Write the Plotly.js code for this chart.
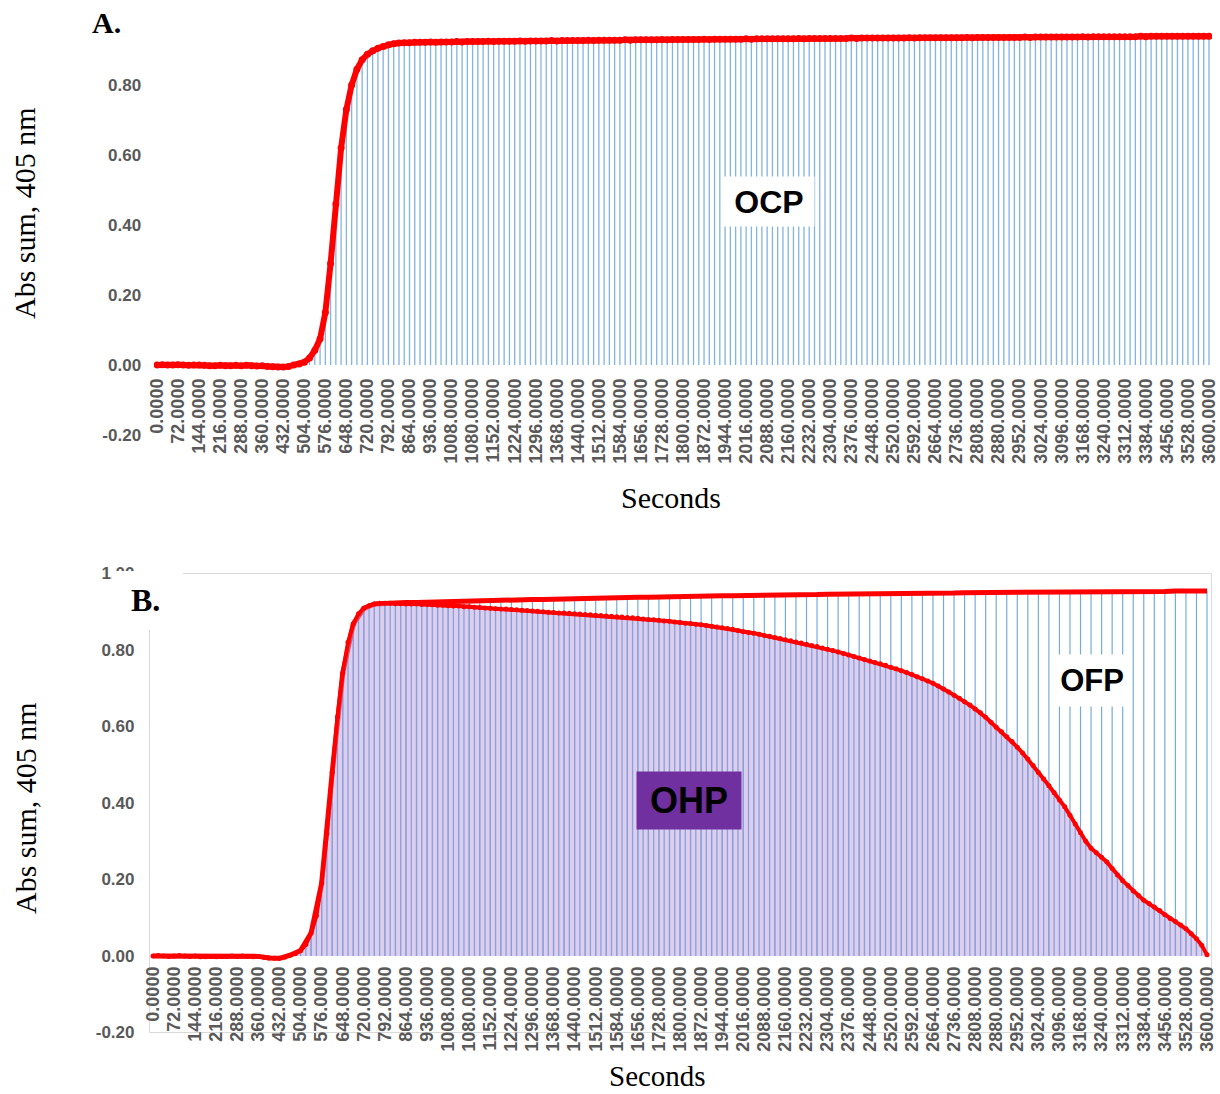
<!DOCTYPE html>
<html>
<head>
<meta charset="utf-8">
<script src="https://cdn.plot.ly/plotly-3.0.1.min.js"></script>
<style>
  html, body { margin: 0; padding: 0; background: #ffffff; }
  #chart { width: 1220px; height: 1094px; }
</style>
</head>
<body>
<div id="chart"></div>
<script>
// Sampling times (s) of the kinetic reads
const seconds = [
  0, 18, 36, 54, 72, 90, 108, 126, 144, 162,
  180, 198, 216, 234, 252, 270, 288, 306, 324, 342,
  360, 378, 396, 414, 432, 450, 468, 486, 504, 522,
  540, 558, 576, 594, 612, 630, 648, 666, 684, 702,
  720, 738, 756, 774, 792, 810, 828, 846, 864, 882,
  900, 918, 936, 954, 972, 990, 1008, 1026, 1044, 1062,
  1080, 1098, 1116, 1134, 1152, 1170, 1188, 1206, 1224, 1242,
  1260, 1278, 1296, 1314, 1332, 1350, 1368, 1386, 1404, 1422,
  1440, 1458, 1476, 1494, 1512, 1530, 1548, 1566, 1584, 1602,
  1620, 1638, 1656, 1674, 1692, 1710, 1728, 1746, 1764, 1782,
  1800, 1818, 1836, 1854, 1872, 1890, 1908, 1926, 1944, 1962,
  1980, 1998, 2016, 2034, 2052, 2070, 2088, 2106, 2124, 2142,
  2160, 2178, 2196, 2214, 2232, 2250, 2268, 2286, 2304, 2322,
  2340, 2358, 2376, 2394, 2412, 2430, 2448, 2466, 2484, 2502,
  2520, 2538, 2556, 2574, 2592, 2610, 2628, 2646, 2664, 2682,
  2700, 2718, 2736, 2754, 2772, 2790, 2808, 2826, 2844, 2862,
  2880, 2898, 2916, 2934, 2952, 2970, 2988, 3006, 3024, 3042,
  3060, 3078, 3096, 3114, 3132, 3150, 3168, 3186, 3204, 3222,
  3240, 3258, 3276, 3294, 3312, 3330, 3348, 3366, 3384, 3402,
  3420, 3438, 3456, 3474, 3492, 3510, 3528, 3546, 3564, 3582,
  3600
];

// Panel A: OCP, absorbance sum at 405 nm
const ocpAbs = [
  0.000, 0.001, 0.000, 0.000, 0.001, 0.000, -0.001, 0.000, 0.000, -0.001,
  -0.002, -0.002, -0.001, -0.002, -0.002, -0.001, -0.002, -0.001, -0.002, -0.003,
  -0.002, -0.004, -0.005, -0.006, -0.006, -0.004, 0.000, 0.003, 0.008, 0.020,
  0.042, 0.075, 0.150, 0.290, 0.460, 0.620, 0.730, 0.800, 0.845, 0.872,
  0.888, 0.898, 0.905, 0.910, 0.915, 0.918, 0.920, 0.921, 0.921, 0.922,
  0.922, 0.922, 0.923, 0.922, 0.923, 0.923, 0.923, 0.924, 0.923, 0.924,
  0.924, 0.924, 0.924, 0.925, 0.924, 0.925, 0.925, 0.925, 0.925, 0.926,
  0.925, 0.926, 0.926, 0.926, 0.926, 0.927, 0.926, 0.927, 0.927, 0.927,
  0.927, 0.927, 0.928, 0.927, 0.928, 0.928, 0.928, 0.928, 0.928, 0.929,
  0.928, 0.929, 0.929, 0.929, 0.929, 0.929, 0.930, 0.929, 0.930, 0.930,
  0.930, 0.930, 0.930, 0.930, 0.931, 0.930, 0.931, 0.931, 0.931, 0.931,
  0.931, 0.931, 0.932, 0.931, 0.932, 0.932, 0.932, 0.932, 0.932, 0.932,
  0.932, 0.932, 0.933, 0.932, 0.933, 0.933, 0.933, 0.933, 0.933, 0.933,
  0.933, 0.933, 0.934, 0.933, 0.934, 0.934, 0.934, 0.934, 0.934, 0.934,
  0.934, 0.934, 0.934, 0.935, 0.934, 0.935, 0.935, 0.935, 0.935, 0.935,
  0.935, 0.935, 0.935, 0.935, 0.936, 0.935, 0.936, 0.936, 0.936, 0.936,
  0.936, 0.936, 0.936, 0.936, 0.936, 0.937, 0.936, 0.937, 0.937, 0.937,
  0.937, 0.937, 0.937, 0.937, 0.937, 0.937, 0.938, 0.937, 0.938, 0.938,
  0.938, 0.938, 0.938, 0.938, 0.938, 0.938, 0.938, 0.939, 0.938, 0.939,
  0.939, 0.939, 0.939, 0.939, 0.939, 0.939, 0.939, 0.939, 0.939, 0.939,
  0.939
];

// Panel B: OHP, absorbance sum at 405 nm
const ohpAbs = [
  0.000, 0.001, 0.000, -0.001, 0.000, 0.001, 0.000, -0.001, 0.000, -0.002,
  -0.002, -0.001, -0.002, -0.001, -0.001, 0.000, -0.001, 0.000, -0.001, -0.002,
  -0.001, -0.003, -0.005, -0.006, -0.006, -0.003, 0.002, 0.006, 0.014, 0.030,
  0.060, 0.105, 0.190, 0.320, 0.480, 0.625, 0.740, 0.820, 0.868, 0.895,
  0.909, 0.916, 0.920, 0.922, 0.922, 0.922, 0.921, 0.921, 0.920, 0.920,
  0.920, 0.919, 0.919, 0.918, 0.917, 0.917, 0.916, 0.915, 0.915, 0.913,
  0.913, 0.912, 0.911, 0.910, 0.909, 0.908, 0.907, 0.907, 0.906, 0.905,
  0.904, 0.903, 0.902, 0.901, 0.900, 0.899, 0.898, 0.897, 0.897, 0.896,
  0.895, 0.894, 0.893, 0.892, 0.891, 0.890, 0.889, 0.888, 0.887, 0.886,
  0.885, 0.884, 0.883, 0.881, 0.880, 0.879, 0.878, 0.876, 0.875, 0.873,
  0.872, 0.870, 0.869, 0.867, 0.866, 0.864, 0.862, 0.860, 0.858, 0.856,
  0.854, 0.851, 0.848, 0.846, 0.844, 0.841, 0.838, 0.836, 0.833, 0.830,
  0.827, 0.824, 0.821, 0.818, 0.815, 0.812, 0.809, 0.805, 0.802, 0.799,
  0.795, 0.791, 0.787, 0.783, 0.779, 0.775, 0.771, 0.767, 0.764, 0.760,
  0.755, 0.751, 0.746, 0.741, 0.736, 0.730, 0.725, 0.719, 0.713, 0.706,
  0.698, 0.690, 0.682, 0.674, 0.665, 0.656, 0.646, 0.636, 0.624, 0.611,
  0.598, 0.586, 0.573, 0.561, 0.546, 0.531, 0.515, 0.498, 0.480, 0.463,
  0.445, 0.427, 0.408, 0.390, 0.368, 0.345, 0.322, 0.300, 0.282, 0.270,
  0.258, 0.246, 0.229, 0.212, 0.197, 0.184, 0.170, 0.158, 0.146, 0.137,
  0.128, 0.119, 0.108, 0.098, 0.090, 0.081, 0.071, 0.058, 0.045, 0.028,
  0.003
];

// Panel B: OFP, read every 36 s
const ofpSeconds = [
  0, 36, 72, 108, 144, 180, 216, 252, 288, 324,
  360, 396, 432, 468, 504, 540, 576, 612, 648, 684,
  720, 756, 792, 828, 864, 900, 936, 972, 1008, 1044,
  1080, 1116, 1152, 1188, 1224, 1260, 1296, 1332, 1368, 1404,
  1440, 1476, 1512, 1548, 1584, 1620, 1656, 1692, 1728, 1764,
  1800, 1836, 1872, 1908, 1944, 1980, 2016, 2052, 2088, 2124,
  2160, 2196, 2232, 2268, 2304, 2340, 2376, 2412, 2448, 2484,
  2520, 2556, 2592, 2628, 2664, 2700, 2736, 2772, 2808, 2844,
  2880, 2916, 2952, 2988, 3024, 3060, 3096, 3132, 3168, 3204,
  3240, 3276, 3312, 3348, 3384, 3420, 3456, 3492, 3528, 3564,
  3600
];
const ofpAbs = [
  0.000, 0.000, 0.000, 0.000, 0.000, -0.002, -0.002, -0.001, -0.001, -0.001,
  -0.001, -0.005, -0.006, 0.002, 0.014, 0.060, 0.190, 0.480, 0.740, 0.868,
  0.909, 0.920, 0.922, 0.923, 0.924, 0.924, 0.925, 0.926, 0.926, 0.927,
  0.928, 0.928, 0.929, 0.930, 0.930, 0.931, 0.932, 0.932, 0.933, 0.933,
  0.934, 0.935, 0.935, 0.936, 0.936, 0.937, 0.938, 0.938, 0.939, 0.939,
  0.940, 0.940, 0.941, 0.941, 0.942, 0.942, 0.942, 0.943, 0.943, 0.944,
  0.944, 0.944, 0.945, 0.945, 0.946, 0.946, 0.946, 0.947, 0.947, 0.947,
  0.948, 0.948, 0.948, 0.949, 0.949, 0.949, 0.949, 0.950, 0.950, 0.950,
  0.950, 0.951, 0.951, 0.951, 0.951, 0.952, 0.952, 0.952, 0.952, 0.952,
  0.952, 0.953, 0.953, 0.953, 0.953, 0.953, 0.953, 0.954, 0.954, 0.954,
  0.954
];

// Category tick labels along the time axis
const tickSeconds = [
  0, 72, 144, 216, 288, 360, 432, 504, 576, 648,
  720, 792, 864, 936, 1008, 1080, 1152, 1224, 1296, 1368,
  1440, 1512, 1584, 1656, 1728, 1800, 1872, 1944, 2016, 2088,
  2160, 2232, 2304, 2376, 2448, 2520, 2592, 2664, 2736, 2808,
  2880, 2952, 3024, 3096, 3168, 3240, 3312, 3384, 3456, 3528,
  3600
];
const tickLabels = [
  "0.0000", "72.0000", "144.0000", "216.0000", "288.0000", "360.0000", "432.0000", "504.0000", "576.0000", "648.0000",
  "720.0000", "792.0000", "864.0000", "936.0000", "1008.0000", "1080.0000", "1152.0000", "1224.0000", "1296.0000", "1368.0000",
  "1440.0000", "1512.0000", "1584.0000", "1656.0000", "1728.0000", "1800.0000", "1872.0000", "1944.0000", "2016.0000", "2088.0000",
  "2160.0000", "2232.0000", "2304.0000", "2376.0000", "2448.0000", "2520.0000", "2592.0000", "2664.0000", "2736.0000", "2808.0000",
  "2880.0000", "2952.0000", "3024.0000", "3096.0000", "3168.0000", "3240.0000", "3312.0000", "3384.0000", "3456.0000", "3528.0000",
  "3600.0000"
];
const absTicksA = [-0.2, 0, 0.2, 0.4, 0.6, 0.8];
const absLabelsA = ["-0.20", "0.00", "0.20", "0.40", "0.60", "0.80"];
const absTicksB = [-0.2, 0, 0.2, 0.4, 0.6, 0.8, 1.0];
const absLabelsB = ["-0.20", "0.00", "0.20", "0.40", "0.60", "0.80", "1.00"];

// ---- page geometry helpers (pixels -> paper fractions) ----
const W = 1220, H = 1094;
const px = v => v / W;
const py = v => 1 - v / H;

const RED = '#FF0000';
const BLUE = '#5B9BD5';
const sansFamily = 'Liberation Sans, Arial, sans-serif';
const serif = 'Liberation Serif, Times New Roman, serif';
const xTickFont = { family: sansFamily, size: 18, color: '#595959', weight: 'bold' };
const yTickFont = { family: sansFamily, size: 17, color: '#595959', weight: 'bold' };

const traces = [
  // Panel A
  { type: 'bar', x: seconds, y: ocpAbs, xaxis: 'x', yaxis: 'y', width: 4.5,
    marker: { color: BLUE, opacity: 0.75, line: { width: 0 } } },
  { type: 'scatter', mode: 'lines+markers', x: seconds, y: ocpAbs, xaxis: 'x', yaxis: 'y',
    line: { color: RED, width: 6 }, marker: { color: RED, size: 7 } },

  // Panel B
  { type: 'bar', x: ofpSeconds, y: ofpAbs, xaxis: 'x2', yaxis: 'y2', width: 4,
    marker: { color: BLUE, opacity: 0.85, line: { width: 0 } } },
  { type: 'bar', x: seconds, y: ohpAbs, xaxis: 'x2', yaxis: 'y2', width: 4.5,
    marker: { color: BLUE, opacity: 0.95, line: { width: 0 } } },
  { type: 'scatter', mode: 'lines', x: ofpSeconds, y: ofpAbs, xaxis: 'x2', yaxis: 'y2',
    line: { color: RED, width: 5 } },
  { type: 'scatter', mode: 'lines+markers', x: seconds, y: ohpAbs, xaxis: 'x2', yaxis: 'y2',
    fill: 'tozeroy', fillcolor: 'rgba(186,160,222,0.5)',
    line: { color: RED, width: 4 }, marker: { color: RED, size: 5 } }
];

const xCommon = {
  tickmode: 'array', tickvals: tickSeconds, ticktext: tickLabels, tickangle: -90,
  tickfont: xTickFont, showgrid: false, zeroline: false, showline: false, ticks: '',
  anchor: 'free', fixedrange: true
};
const yCommon = {
  tickmode: 'array', tickfont: yTickFont, showgrid: false, zeroline: false, showline: false,
  ticks: '', range: [-0.2, 1.0], fixedrange: true
};

// centred paper-positioned text
function label(text, x, y, font, extra) {
  return Object.assign({
    text: text, xref: 'paper', yref: 'paper', x: px(x), y: py(y),
    xanchor: 'center', yanchor: 'middle', showarrow: false, font: font
  }, extra || {});
}
const serifFont = size => ({ family: serif, size: size, color: '#000000' });
const boxFont = size => ({ family: sansFamily, size: size, color: '#000000' });

const layout = {
  width: W, height: H,
  margin: { l: 0, r: 0, t: 0, b: 0 },
  paper_bgcolor: '#ffffff', plot_bgcolor: 'rgba(0,0,0,0)',
  showlegend: false, barmode: 'overlay', hovermode: false,
  xaxis: Object.assign({}, xCommon, {
    domain: [px(154.1), px(1211.9)], range: [-10, 3610], position: py(365), ticklabelstandoff: 9
  }),
  yaxis: Object.assign({}, yCommon, {
    domain: [py(435), py(15)], anchor: 'x', tickvals: absTicksA, ticktext: absLabelsA, ticklabelstandoff: 12
  }),
  xaxis2: Object.assign({}, xCommon, {
    domain: [px(149.5), px(1211.4)], range: [-12, 3615], position: py(956), ticklabelstandoff: 6
  }),
  yaxis2: Object.assign({}, yCommon, {
    domain: [py(1032.5), py(573.5)], anchor: 'x2', tickvals: absTicksB, ticktext: absLabelsB, ticklabelstandoff: 14
  }),
  shapes: [
    { type: 'rect', xref: 'x2 domain', yref: 'y2 domain', x0: 0, x1: 1, y0: 0, y1: 1,
      line: { color: '#D9D9D9', width: 1 }, layer: 'below' },
    { type: 'rect', xref: 'paper', yref: 'paper', x0: px(112), x1: px(183), y0: py(630), y1: py(571),
      fillcolor: '#ffffff', line: { width: 0 }, layer: 'above' }
  ],
  annotations: [
    label('<b>A.</b>', 106, 22, serifFont(30)),
    label('<b>B.</b>', 145, 600, serifFont(32)),
    label('Abs sum, 405 nm', 25, 213, serifFont(30), { textangle: -90 }),
    label('Abs sum, 405 nm', 25, 808, serifFont(30), { textangle: -90 }),
    label('Seconds', 671, 497, serifFont(30)),
    label('Seconds', 657, 1076, serifFont(29)),
    label('<b>OCP</b>', 769, 201.5, boxFont(32),
      { width: 90, height: 49, bgcolor: '#ffffff', borderpad: 0 }),
    label('<b>OHP</b>', 689, 800, boxFont(36),
      { width: 104, height: 57, bgcolor: '#7030A0', borderpad: 0 }),
    label('<b>OFP</b>', 1092, 680.5, boxFont(31),
      { width: 78, height: 51, bgcolor: '#ffffff', borderpad: 0 })
  ]
};

Plotly.newPlot('chart', traces, layout, { staticPlot: true, displayModeBar: false });
</script>
</body>
</html>
